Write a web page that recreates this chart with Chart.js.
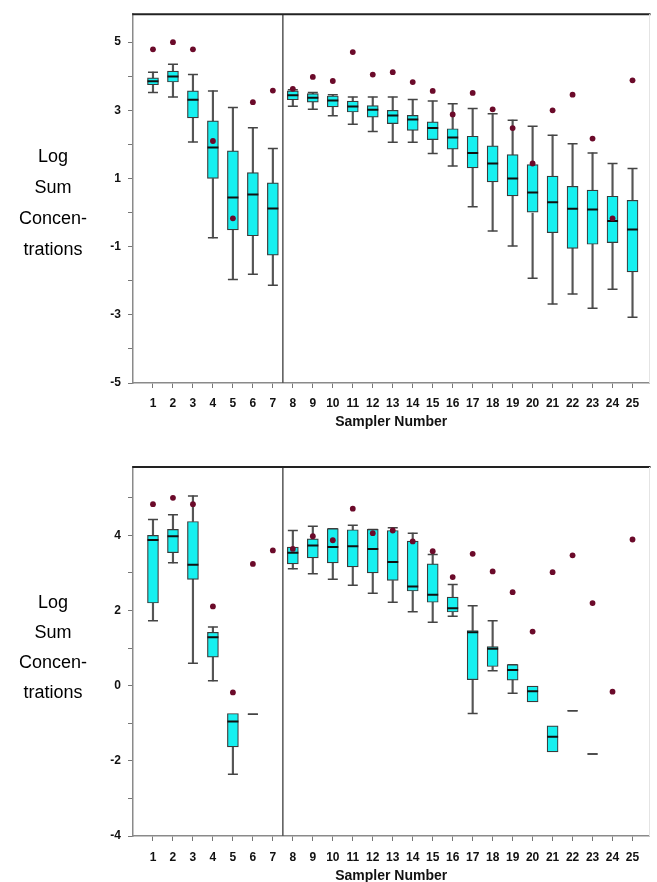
<!DOCTYPE html>
<html>
<head>
<meta charset="utf-8">
<script src="https://cdn.jsdelivr.net/npm/chart.js@4.4.1/dist/chart.umd.min.js"></script>
<style>
  html, body { margin: 0; padding: 0; background: #fff; overflow: hidden; }
  #wrap { position: relative; width: 657px; height: 882px; }
  canvas { position: absolute; left: 0; }
  .ylab { position: absolute; left: 0; width: 106px; text-align: center;
          font-family: "Liberation Sans", Arial, sans-serif; font-size: 18px; color: #000; }
</style>
</head>
<body>
<div id="wrap">
  <canvas id="c1" width="657" height="441" style="top:0"></canvas>
  <canvas id="c2" width="657" height="447" style="top:441px"></canvas>
  <div class="ylab" style="top:141px; line-height:31px">Log<br>Sum<br>Concen-<br>trations</div>
  <div class="ylab" style="top:587px; line-height:30px">Log<br>Sum<br>Concen-<br>trations</div>
</div>
<script>
// ---------- data ----------
const samplers = [1,2,3,4,5,6,7,8,9,10,11,12,13,14,15,16,17,18,19,20,21,22,23,24,25];
const groupSplit = 7.5; // boundary between samplers 1-7 and 8-25

// Upper panel
const topLo  = [3.52,3.39,2.07,-0.74,-1.96,-1.81,-2.13,3.12,3.03,2.84,2.59,2.38,2.06,2.06,1.73,1.37,0.17,-0.54,-0.98,-1.93,-2.68,-2.39,-2.81,-2.25,-3.07];
const topQ1  = [3.75,3.83,2.78,1.00,-0.51,-0.68,-1.25,3.31,3.24,3.10,2.95,2.80,2.61,2.41,2.14,1.86,1.31,0.90,0.49,0.00,-0.59,-1.05,-0.93,-0.88,-1.74];
const topMed = [3.85,3.99,3.31,1.91,0.44,0.53,0.12,3.44,3.37,3.29,3.11,3.02,2.85,2.73,2.48,2.20,1.75,1.44,1.00,0.59,0.30,0.11,0.09,-0.25,-0.50];
const topQ3  = [3.95,4.15,3.57,2.69,1.81,1.17,0.87,3.57,3.49,3.42,3.27,3.14,3.00,2.85,2.66,2.46,2.24,1.96,1.70,1.41,1.07,0.77,0.66,0.48,0.36];
const topHi  = [4.12,4.35,4.05,3.57,3.08,2.49,1.88,3.60,3.52,3.46,3.39,3.39,3.39,3.32,3.27,3.19,3.05,2.90,2.71,2.53,2.27,2.02,1.75,1.44,1.29];
const topDot = [4.79,5.00,4.79,2.10,-0.17,3.24,3.58,3.63,3.98,3.86,4.71,4.05,4.12,3.83,3.57,2.88,3.51,3.03,2.48,1.44,3.00,3.46,2.17,-0.17,3.88];

// Lower panel
const botLo  = [1.73,3.27,0.60,0.13,-2.36,-0.76,null,3.11,2.98,2.83,2.67,2.46,2.22,1.97,1.69,1.85,-0.74,0.40,-0.20,null,null,-0.67,-1.82,null,null];
const botQ1  = [2.20,3.54,2.83,0.76,-1.63,null,null,3.24,3.40,3.27,3.16,3.00,2.80,2.52,2.22,1.96,0.16,0.51,0.15,-0.43,-1.76,null,null,null,null];
const botMed = [3.88,3.98,3.22,1.29,-0.95,null,null,3.54,3.73,3.69,3.71,3.64,3.29,2.64,2.42,2.06,1.42,0.98,0.42,-0.15,-1.36,null,null,null,null];
const botQ3  = [4.00,4.16,4.37,1.42,-0.74,null,null,3.69,3.91,4.18,4.15,4.16,4.13,3.85,3.24,2.36,1.47,1.04,0.56,0.00,-1.07,null,null,null,null];
const botHi  = [4.42,4.55,5.05,1.56,null,-0.76,null,4.13,4.24,4.18,4.27,4.16,4.20,4.06,3.49,2.69,2.13,1.73,0.56,null,null,-0.67,-1.82,null,null];
const botDot = [4.83,5.00,4.83,2.11,-0.18,3.24,3.60,3.64,3.98,3.87,4.71,4.06,4.13,3.84,3.58,2.89,3.51,3.04,2.49,1.44,3.02,3.47,2.20,-0.16,3.89];

const topTickLabels = [-5,-3,-1,1,3,5];
const botTickLabels = [-4,-2,0,2,4];

// ---------- helpers ----------
const FONT = '"Liberation Sans", Arial, sans-serif';
const CYAN = '#16F0F0';
const DOT = '#6B0A2A';

function pts(ys) {
  return samplers.map((s, i) => ys[i] == null ? null : {x: s, y: ys[i]}).filter(p => p);
}
function ranges(a, b) {
  return samplers.map((s, i) => (a[i] == null || b[i] == null || a[i] === b[i]) ? null : {x: s, y: [a[i], b[i]]}).filter(p => p);
}

const framePlugin = {
  id: 'frame',
  beforeDatasetsDraw(chart) {
    const {ctx, chartArea: a, scales} = chart;
    const xs = scales.x.getPixelForValue(groupSplit);
    ctx.save();
    ctx.strokeStyle = '#555';
    ctx.lineWidth = 1.5;
    ctx.beginPath(); ctx.moveTo(xs, a.top); ctx.lineTo(xs, a.bottom); ctx.stroke();
    ctx.restore();
  },
  afterDraw(chart) {
    const {ctx, chartArea: a} = chart;
    ctx.save();
    ctx.strokeStyle = '#222';
    ctx.lineWidth = 2;
    ctx.beginPath(); ctx.moveTo(a.left - 0.75, a.top); ctx.lineTo(a.right + 1, a.top); ctx.stroke();
    ctx.strokeStyle = '#e4e4e4';
    ctx.lineWidth = 1;
    ctx.beginPath(); ctx.moveTo(a.right, a.top); ctx.lineTo(a.right, a.bottom); ctx.stroke();
    ctx.restore();
  }
};

function makeChart(id, d, o) {
  const datasets = [
    {type: 'scatter', data: pts(d.dot), pointStyle: 'circle', pointRadius: 2.9,
     backgroundColor: DOT, borderColor: DOT, borderWidth: 0},
    {type: 'scatter', data: pts(d.med), pointStyle: 'line', pointRadius: 5.5,
     borderColor: '#111', borderWidth: 2},
    {type: 'bar', data: ranges(d.q1, d.q3), grouped: false, barThickness: 11,
     backgroundColor: CYAN, borderColor: '#3a3a3a', borderWidth: 1.2, borderSkipped: false},
    {type: 'scatter', data: pts(d.lo).concat(pts(d.hi)), pointStyle: 'line', pointRadius: 5,
     borderColor: '#444', borderWidth: 1.5},
    {type: 'bar', data: ranges(d.lo, d.q1).concat(ranges(d.q3, d.hi)), grouped: false, barThickness: 1.5,
     backgroundColor: '#555', borderWidth: 0}
  ];
  return new Chart(document.getElementById(id), {
    type: 'bar',
    data: {datasets},
    plugins: [framePlugin],
    options: {
      responsive: false,
      animation: false,
      events: [],
      layout: {padding: {top: o.top, right: 1, left: 0, bottom: 0}},
      plugins: {legend: {display: false}, tooltip: {enabled: false}},
      scales: {
        x: {
          type: 'linear', min: 0, max: 25.85, offset: false,
          afterBuildTicks: s => { s.ticks = samplers.map(v => ({value: v})); },
          afterFit: s => { s.height = o.xh; },
          grid: {drawOnChartArea: false, drawTicks: true, tickLength: 5, color: '#777', offset: false},
          border: {display: true, color: '#8a8a8a', width: 1.5},
          ticks: {autoSkip: false, maxRotation: 0, padding: o.tpad, color: '#111',
                  font: {family: FONT, size: 12, weight: 'bold'},
                  callback: v => String(v)},
          title: {display: true, text: 'Sampler Number', color: '#111',
                  font: {family: FONT, size: 14, weight: 'bold'},
                  padding: {top: 0, bottom: o.titlePad}}
        },
        y: {
          type: 'linear', min: o.ymin, max: o.ymax,
          afterFit: s => { s.width = 133; },
          grid: {drawOnChartArea: false, drawTicks: true, tickLength: 5, color: '#777'},
          border: {display: true, color: '#8a8a8a', width: 1.5},
          ticks: {stepSize: 1, includeBounds: false, padding: 7, color: '#111',
                  font: {family: FONT, size: 12, weight: 'bold'},
                  callback: v => o.labels.includes(v) ? String(v) : ''}
        }
      }
    }
  });
}

makeChart('c1', {lo: topLo, q1: topQ1, med: topMed, q3: topQ3, hi: topHi, dot: topDot},
  {top: 14, xh: 58, tpad: 8, titlePad: 10, ymin: -5, ymax: 5.82, labels: topTickLabels});
makeChart('c2', {lo: botLo, q1: botQ1, med: botMed, q3: botQ3, hi: botHi, dot: botDot},
  {top: 26, xh: 52, tpad: 9, titlePad: 3, ymin: -4, ymax: 5.82, labels: botTickLabels});
</script>
</body>
</html>
